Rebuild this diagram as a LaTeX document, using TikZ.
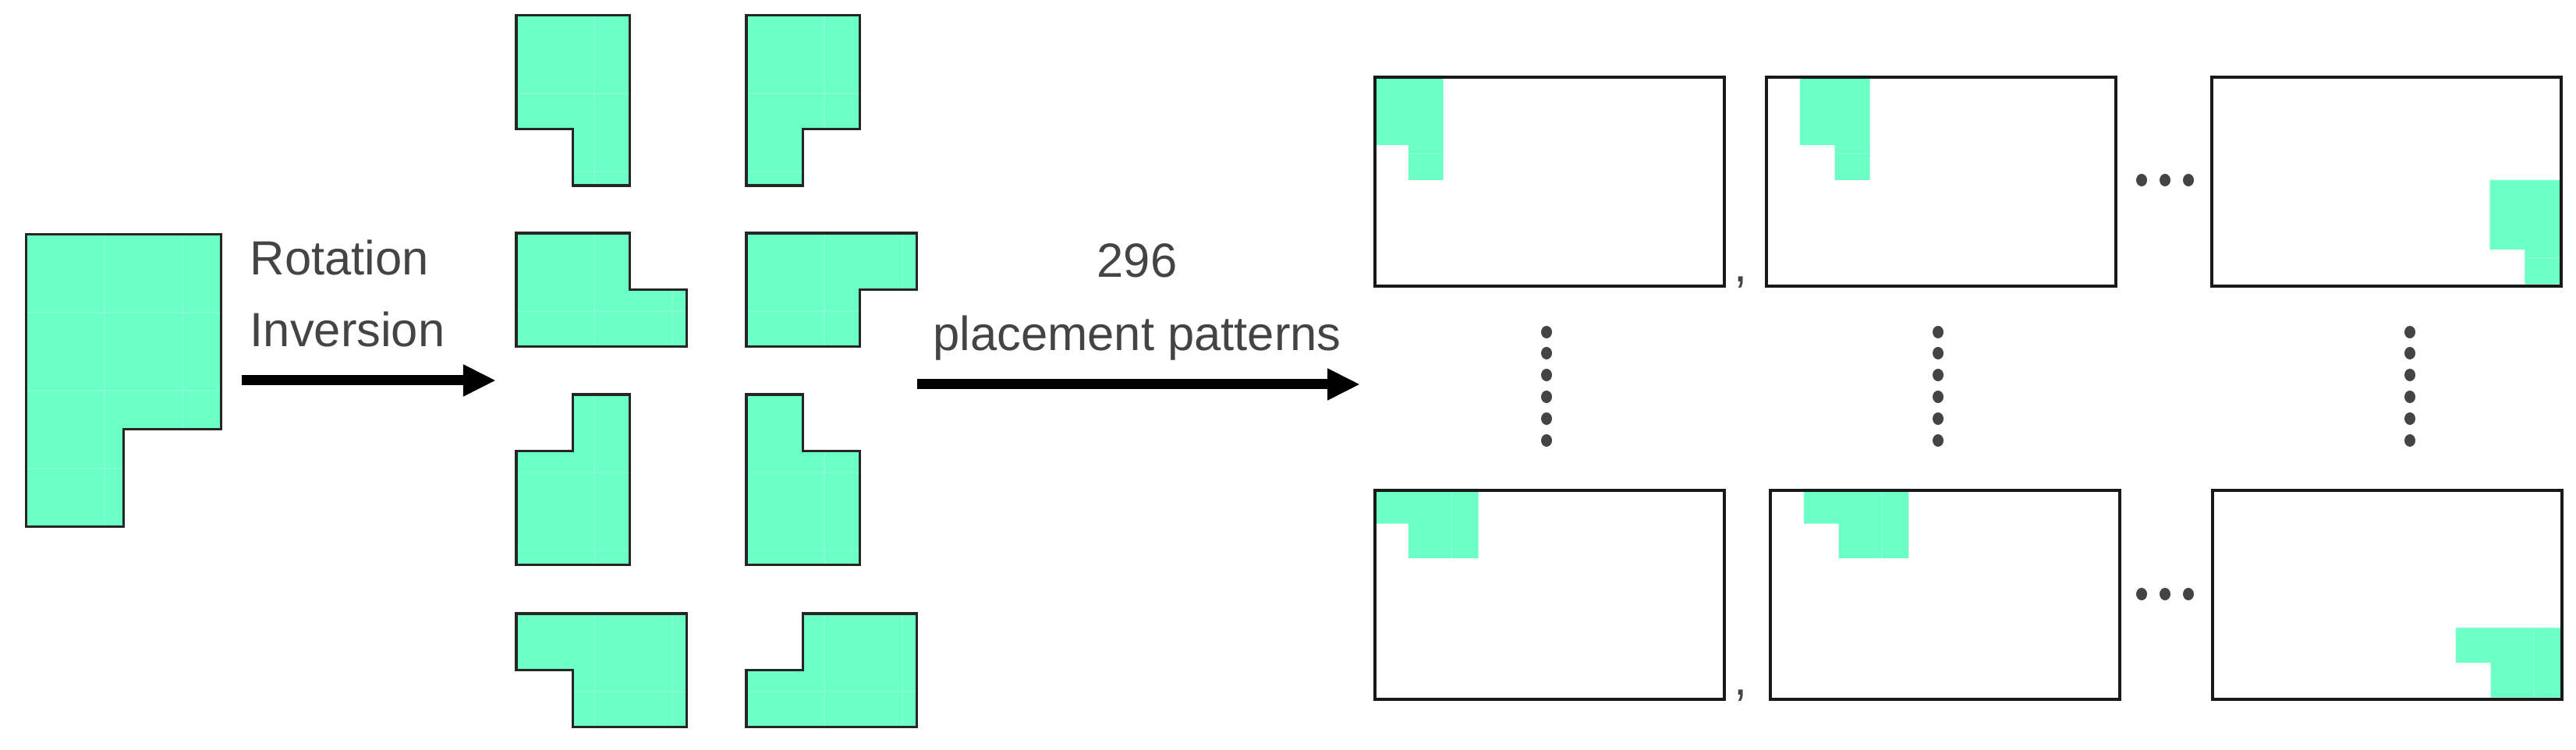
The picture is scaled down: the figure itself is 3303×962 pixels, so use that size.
\documentclass[tikz,border=0pt]{standalone}
\usepackage{fontspec}
\setmainfont{Liberation Sans}
\usetikzlibrary{arrows.meta}
\definecolor{tilec}{HTML}{6BFFC6}
\definecolor{gridc}{HTML}{7DFFD0}
\definecolor{txt}{HTML}{444444}
\tikzset{
  tile/.style={fill=tilec},
  gridline/.style={draw=gridc,line width=0.6pt},
  outl/.style={draw=black!85,line width=0.9pt,line join=miter},
  boxs/.style={draw=black!90,line width=1.1pt},
  bigarrow/.style={line width=0.13cm,-{Triangle[length=0.42cm,width=0.38cm]}},
  lab/.style={font=\fontsize{17.5}{20}\selectfont,text=txt,inner sep=0pt},
  dot/.style={fill=txt}
}
\def\shA{(0,0)--(2,0)--(2,3)--(1,3)--(1,2)--(0,2)--cycle}
\def\shB{(0,0)--(2,0)--(2,2)--(1,2)--(1,3)--(0,3)--cycle}
\def\shC{(0,0)--(2,0)--(2,1)--(3,1)--(3,2)--(0,2)--cycle}
\def\shD{(0,0)--(3,0)--(3,1)--(2,1)--(2,2)--(0,2)--cycle}
\def\shE{(1,0)--(2,0)--(2,3)--(0,3)--(0,1)--(1,1)--cycle}
\def\shF{(0,0)--(1,0)--(1,1)--(2,1)--(2,3)--(0,3)--cycle}
\def\shG{(0,0)--(3,0)--(3,2)--(1,2)--(1,1)--(0,1)--cycle}
\def\shH{(1,0)--(3,0)--(3,2)--(0,2)--(0,1)--(1,1)--cycle}
% piece: #1 origin (px), #2 cell size (px), #3 shape
\newcommand\mypiece[3]{%
  \begin{scope}[shift={#1}]
  \begin{scope}[x=#2*0.01cm,y=-#2*0.01cm]
    \begin{scope}\clip #3; \fill[tile] (-1,-1) rectangle (5,5);
      \draw[gridline] (0,0) grid (4,4);\end{scope}
    \draw[outl] #3;
  \end{scope}\end{scope}}
% placement board: #1 origin, #2 cell offset, #3 shape
\newcommand\myboard[4]{%
  \begin{scope}[shift={#1}]
  \begin{scope}[x=0.448cm,y=-0.446cm]
    \begin{scope}[shift={#2}]
      \begin{scope}\clip #3; \fill[tile] (-1,-1) rectangle (5,5);
        \draw[gridline] (0,0) grid (4,4);\end{scope}
    \end{scope}
    \node[boxs,draw,minimum width=4.48cm,minimum height=2.676cm,anchor=north west,inner sep=0pt] (#4) at (0,0) {};
  \end{scope}\end{scope}}
\begin{document}
\begin{tikzpicture}[x=0.01cm,y=-0.01cm]
\useasboundingbox (0,0) rectangle (3303,962);
% original piece
\mypiece{(33.7,300.6)}{125}{\shB}
% orientations
\mypiece{(662,19.6)}{72.8}{\shA}
\mypiece{(957,19.6)}{72.8}{\shB}
\mypiece{(662,299)}{72.8}{\shC}
\mypiece{(957,299)}{72.8}{\shD}
\mypiece{(662,506)}{72.8}{\shE}
\mypiece{(957,506)}{72.8}{\shF}
\mypiece{(662,787)}{72.8}{\shG}
\mypiece{(957,787)}{72.8}{\shH}
% labels and arrows
\node[lab,anchor=base west] (rot) at (320,353) {Rotation};
\node[lab,anchor=base west] (inv) at (320,445) {Inversion};
\coordinate (a1s) at (310,488); \coordinate (a1e) at (636,488);
\draw[bigarrow] (a1s) -- (a1e);
\node[lab,anchor=base] (n296) at (1458,356) {296};
\node[lab,anchor=base] (pp) at (1458,450) {placement patterns};
\coordinate (a2s) at (1176,493); \coordinate (a2e) at (1744,493);
\draw[bigarrow] (a2s) -- (a2e);
% boards
\myboard{(1761,97)}{(0,0)}{\shA}{b1}
\myboard{(2263,97)}{(1,0)}{\shA}{b2}
\myboard{(2834,97)}{(8,3)}{\shA}{b3}
\myboard{(1761,627)}{(0,0)}{\shG}{b4}
\myboard{(2268,627)}{(1,0)}{\shG}{b5}
\myboard{(2835,627)}{(7,4)}{\shG}{b6}
% commas
\node[lab,anchor=base] (c1) at (2232,362) {,};
\node[lab,anchor=base] (c2) at (2232,892) {,};
% horizontal dots
\foreach \xx in {2746,2776,2806}{
  \fill[dot] (\xx,231) ellipse (7 and 8);
  \fill[dot] (\xx,762) ellipse (7 and 8);}
% vertical dots
\foreach \xx in {1983,2485,3090}{
  \foreach \yy in {426,453,481,509,537,565}{
    \fill[dot] (\xx,\yy) ellipse (7 and 8);}}
\end{tikzpicture}
\end{document}
